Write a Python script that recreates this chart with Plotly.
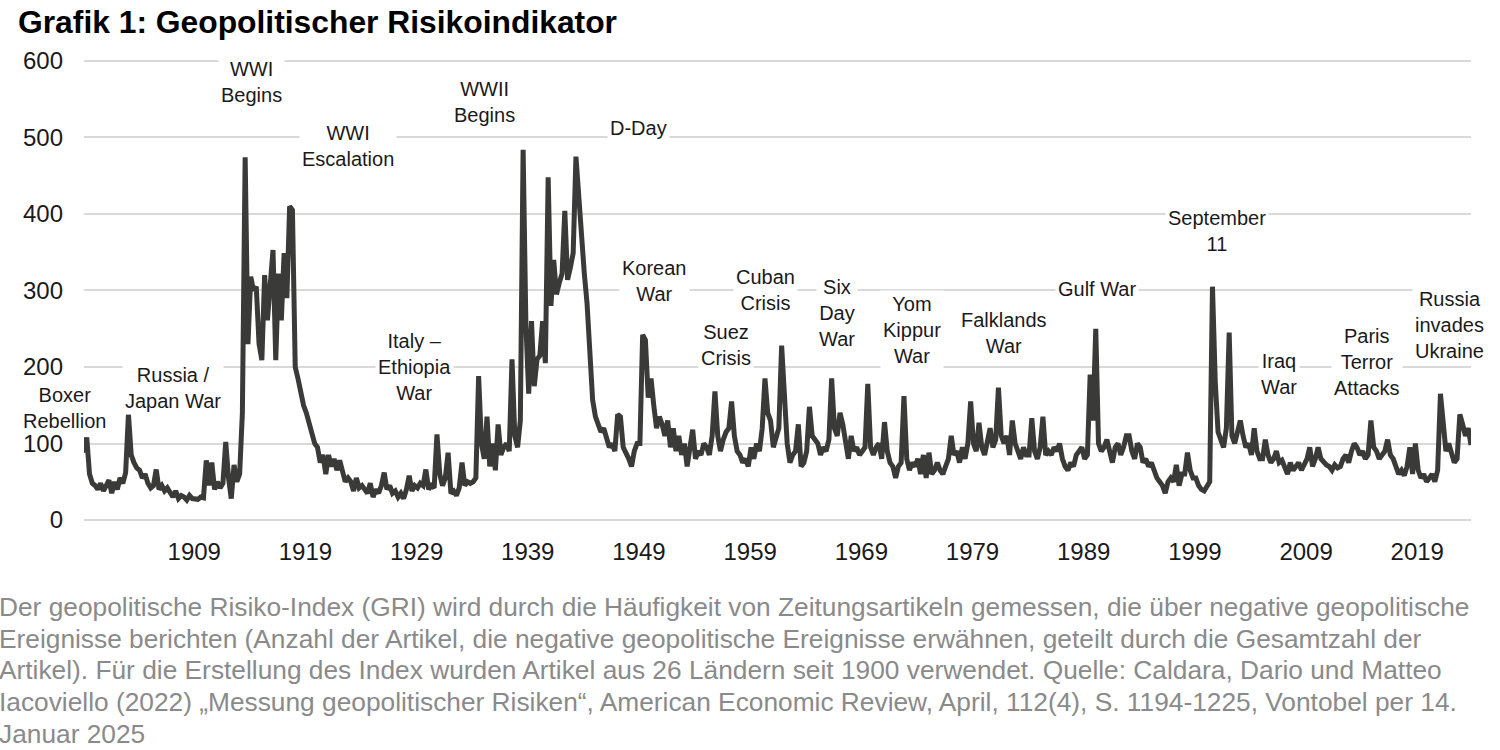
import pandas as pd
import plotly.graph_objects as go

# quarterly GPR readings (Q1..Q4 per year)
gri_1900s = [88, 108, 60, 48, 45, 40, 48, 38, 45, 52, 35, 50, 40, 55, 48, 62,
             138, 85, 75, 68, 65, 55, 60, 48, 42, 45, 66, 40, 45, 38, 42, 35,
             30, 38, 28, 32, 30, 26, 32, 28]
gri_1910s = [28, 27, 30, 29, 78, 45, 75, 40, 50, 42, 48, 102, 55, 28, 72, 50,
             60, 140, 474, 230, 318, 300, 305, 230, 209, 320, 261, 300,
             353, 209, 322, 261, 349, 290, 410, 405, 200, 185, 165, 150]
gri_1920s = [140, 125, 110, 100, 95, 75, 85, 60, 85, 70, 80, 65, 78, 60, 50, 55,
             50, 38, 55, 42, 45, 40, 35, 48, 30, 40, 35, 45, 62, 40, 45, 35,
             38, 30, 35, 28, 40, 58, 38, 45]
gri_1930s = [42, 48, 45, 66, 40, 45, 42, 112, 60, 45, 55, 88, 35, 38, 32, 42,
             75, 45, 50, 48, 50, 55, 188, 100, 80, 135, 70, 100, 65, 125, 85, 95,
             100, 90, 210, 110, 95, 130, 484, 255]
gri_1940s = [165, 260, 175, 210, 215, 260, 205, 448, 280, 340, 295, 310,
             322, 404, 314, 330, 349, 475, 418, 362, 322, 283, 231, 157,
             135, 125, 115, 120, 105, 95, 100, 90, 138, 135, 95, 88, 80, 70, 90, 100]
gri_1950s = [100, 242, 235, 160, 185, 150, 120, 135, 125, 110, 130, 95,
             120, 90, 110, 85, 100, 70, 95, 118, 80, 90, 85, 100, 95, 85, 110, 168,
             110, 90, 105, 115, 120, 155, 110, 90, 85, 75, 80, 70]
gri_1960s = [95, 80, 100, 90, 120, 185, 140, 130, 95, 110, 120, 228,
             160, 100, 75, 85, 90, 125, 70, 75, 90, 148, 110, 105, 100, 85, 95, 90,
             105, 185, 120, 110, 140, 125, 100, 80, 110, 90, 95, 85]
gri_1970s = [90, 95, 178, 95, 85, 95, 100, 80, 128, 90, 75, 70, 55, 70, 75, 162,
             80, 65, 75, 70, 80, 60, 85, 55, 88, 60, 65, 75, 65, 60, 70, 80,
             110, 85, 90, 75, 95, 80, 100, 155]
gri_1980s = [100, 90, 127, 95, 85, 100, 120, 95, 105, 173, 110, 100, 110, 85, 130, 100,
             90, 80, 95, 85, 85, 133, 90, 80, 95, 135, 85, 90, 85, 95, 90, 100,
             80, 70, 65, 75, 70, 85, 90, 95]
gri_1990s = [80, 85, 190, 130, 250, 100, 90, 95, 105, 90, 75, 95, 100, 85, 95, 110,
             110, 90, 80, 100, 95, 75, 80, 70, 75, 65, 55, 50, 45, 35, 50, 55,
             50, 72, 45, 60, 60, 88, 65, 55]
gri_2000s = [55, 45, 40, 38, 45, 50, 305, 180, 115, 105, 95, 120, 245, 110, 100, 115,
             130, 110, 95, 100, 85, 120, 90, 80, 80, 105, 85, 75, 80, 90, 75, 78,
             70, 60, 75, 65, 70, 75, 65, 72]
gri_2010s = [80, 95, 70, 80, 95, 80, 75, 72, 70, 65, 72, 68, 70, 80, 85, 75,
             90, 100, 95, 85, 90, 80, 85, 130, 95, 90, 80, 85, 90, 105, 85, 80,
             70, 60, 65, 58, 70, 95, 60, 100]
gri_2020s = [65, 55, 60, 50, 55, 60, 50, 65, 165, 120, 90, 100, 85, 75, 80, 138,
             125, 110, 120, 98]

tick_years = ["1909", "1919", "1929", "1939", "1949", "1959", "1969",
              "1979", "1989", "1999", "2009", "2019"]

event_labels = ["Boxer<br>Rebellion", "Russia /<br>Japan War", "WWI<br>Begins",
                "WWI<br>Escalation", "Italy –<br>Ethiopia<br>War", "WWII<br>Begins",
                "D-Day", "Korean<br>War", "Suez<br>Crisis", "Cuban<br>Crisis",
                "Six<br>Day<br>War", "Yom<br>Kippur<br>War", "Falklands<br>War",
                "Gulf War", "September<br>11", "Iraq<br>War",
                "Paris<br>Terror<br>Attacks", "Russia<br>invades<br>Ukraine"]
event_dates = ["1900-01-01", "1908-01-01", "1915-02-01", "1923-10-15", "1929-09-15",
               "1936-01-01", "1949-11-20", "1951-04-15", "1957-09-15", "1961-04-15",
               "1967-09-15", "1974-07-01", "1982-09-15", "1991-02-05", "2001-11-25",
               "2007-07-01", "2015-05-25", "2022-10-15"]
event_levels = [147, 172, 572, 489, 200, 547, 512, 313, 229, 300,
                271, 248, 244, 302, 378, 191, 206, 255]

footnote = [
    "Der geopolitische Risiko-Index (GRI) wird durch die Häufigkeit von Zeitungsartikeln gemessen, die über negative geopolitische",
    "Ereignisse berichten (Anzahl der Artikel, die negative geopolitische Ereignisse erwähnen, geteilt durch die Gesamtzahl der",
    "Artikel). Für die Erstellung des Index wurden Artikel aus 26 Ländern seit 1900 verwendet. Quelle: Caldara, Dario und Matteo",
    "Iacoviello (2022) „Messung geopolitischer Risiken“, American Economic Review, April, 112(4), S. 1194-1225, Vontobel per 14.",
    "Januar 2025",
]

gri = (gri_1900s + gri_1910s + gri_1920s + gri_1930s + gri_1940s + gri_1950s +
       gri_1960s + gri_1970s + gri_1980s + gri_1990s + gri_2000s + gri_2010s + gri_2020s)
dates = pd.date_range("1900-01-01", periods=len(gri), freq="QS")
tickvals = [pd.Timestamp(y + "-12-01") for y in tick_years]

FONT = "Liberation Sans, Arial, sans-serif"
W, H = 1500, 750
ML, MR, MT, MB = 84, 29, 59, 230
plot_w, plot_h = W - ML - MR, H - MT - MB

fig = go.Figure()
fig.add_trace(go.Scatter(x=dates, y=gri, mode="lines",
                         line=dict(color="#3a3b39", width=5),
                         hoverinfo="x+y", showlegend=False))

for txt, d, lvl in zip(event_labels, event_dates, event_levels):
    boxer = txt.startswith("Boxer")
    fig.add_annotation(x=d, y=lvl, xref="x", yref="y", text=txt, showarrow=False,
                       xanchor="center", yanchor="middle",
                       xshift=-20 if boxer else 0,
                       bgcolor="white", borderpad=0 if boxer else 2,
                       font=dict(family=FONT, size=20, color="#1a1a1a"))

# footnote lines below the chart
for i, line in enumerate(footnote):
    py = 607 + i * 31.7
    fig.add_annotation(x=-ML / plot_w, y=(MT + plot_h - py) / plot_h,
                       xref="paper", yref="paper", text=line, showarrow=False,
                       xanchor="left", yanchor="middle", align="left",
                       xshift=-2, borderpad=0,
                       font=dict(family=FONT, size=26.3, color="#8a8a8a"))

fig.update_layout(
    width=W, height=H,
    margin=dict(l=ML, r=MR, t=MT, b=MB),
    paper_bgcolor="white", plot_bgcolor="white",
    title=dict(text="<b>Grafik 1: Geopolitischer Risikoindikator</b>",
               x=18 / W, xanchor="left", y=1 - 22 / H, yanchor="middle",
               font=dict(family=FONT, size=31.8, color="#000000")),
    font=dict(family=FONT, color="#1a1a1a"),
)
fig.update_yaxes(range=[0, 602.6], tickvals=[0, 100, 200, 300, 400, 500, 600],
                 showgrid=True, gridcolor="#d9d9d9",
                 gridwidth=1.5, zeroline=True, zerolinecolor="#d9d9d9", zerolinewidth=1.5,
                 showline=False, ticks="", ticklabelstandoff=20,
                 tickfont=dict(family=FONT, size=24, color="#1a1a1a"))
fig.update_xaxes(type="date", range=[dates[0], dates[-1]], showgrid=False,
                 zeroline=False, showline=False, ticks="",
                 tickvals=tickvals, ticktext=tick_years, ticklabelstandoff=15,
                 tickfont=dict(family=FONT, size=24, color="#1a1a1a"))

fig.write_html("out.html", config={"displayModeBar": False},
               post_script="document.body.style.margin='0';")
